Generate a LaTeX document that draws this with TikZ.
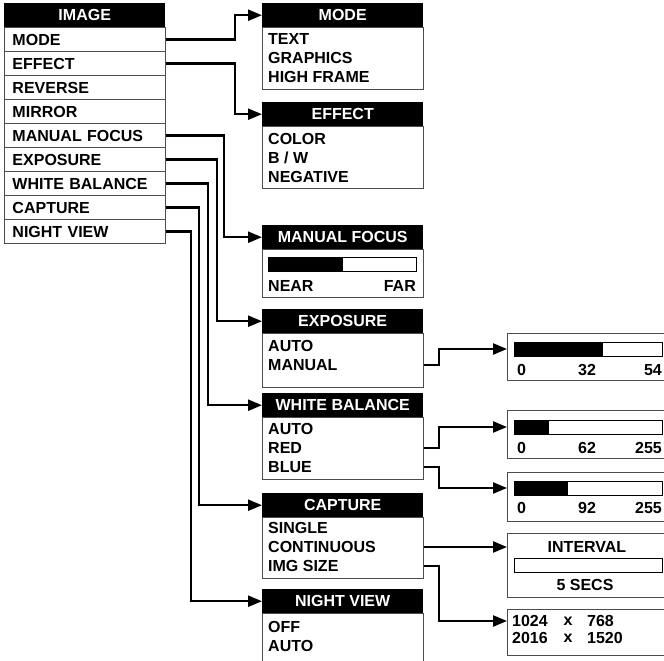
\documentclass[tikz,border=0pt]{standalone}
\usepackage{fontspec}
\setmainfont{Liberation Sans}
\usetikzlibrary{arrows.meta}
\newcommand\lab{\fontsize{16}{19}\selectfont\bfseries}
\begin{document}
\begin{tikzpicture}[x=1pt,y=-1pt,
 box/.style={draw=black!70, line width=1pt},
 menurow/.style={box, anchor=north west, minimum height=24pt, text width=145pt, inner xsep=8pt, inner ysep=0pt, align=left, font=\lab},
 hdr/.style={fill=black, text=white, anchor=north west, minimum height=24pt, minimum width=161pt, inner sep=0pt, font=\lab},
 body/.style={box, anchor=north west, minimum width=161pt, inner sep=0pt},
 rbox/.style={box, anchor=north west, minimum width=160pt, inner sep=0pt},
 item/.style={anchor=west, inner sep=0pt, font=\lab},
 conn/.style={line width=2.3pt, -{Triangle[length=14pt,width=11pt]}},
 bar/.style={draw=black, line width=0.8pt, anchor=west, minimum width=148pt, minimum height=14pt, inner sep=0pt},
 barfill/.style={fill=black, anchor=west, minimum height=14pt, inner sep=0pt},
]
\useasboundingbox (0,0) rectangle (664,661);

% main menu
\node[hdr] (img) at (4,3) {IMAGE};
\node[menurow] (m1) at (4,27) {MODE};
\node[menurow] (m2) at (4,51) {EFFECT};
\node[menurow] (m3) at (4,75) {REVERSE};
\node[menurow] (m4) at (4,99) {MIRROR};
\node[menurow] (m5) at (4,123) {MANUAL FOCUS};
\node[menurow] (m6) at (4,147) {EXPOSURE};
\node[menurow] (m7) at (4,171) {WHITE BALANCE};
\node[menurow] (m8) at (4,195) {CAPTURE};
\node[menurow] (m9) at (4,219) {NIGHT VIEW};

% MODE
\node[hdr] (modeh) at (262,3) {MODE};
\node[body, minimum height=62pt] (modeb) at (262,27) {};
\node[item] (mo1) at (268,39) {TEXT};
\node[item] (mo2) at (268,58) {GRAPHICS};
\node[item] (mo3) at (268,77) {HIGH FRAME};

% EFFECT
\node[hdr] (effh) at (262,102) {EFFECT};
\node[body, minimum height=62pt] (effb) at (262,126) {};
\node[item] (ef1) at (268,139) {COLOR};
\node[item] (ef2) at (268,158) {B / W};
\node[item] (ef3) at (268,177) {NEGATIVE};

% MANUAL FOCUS
\node[hdr] (mfh) at (262,225) {MANUAL FOCUS};
\node[body, minimum height=48pt] (mfb) at (262,249) {};
\node[bar] (mfbar) at (268,264.5) {};
\node[barfill, minimum width=75pt] (mffill) at (mfbar.west) {};
\node[item] (mfnear) at (268,286) {NEAR};
\node[item, anchor=east] (mffar) at (416,286) {FAR};

% EXPOSURE
\node[hdr] (exph) at (262,309) {EXPOSURE};
\node[body, minimum height=54pt] (expb) at (262,333) {};
\node[item] (ex1) at (268,346) {AUTO};
\node[item] (ex2) at (268,365) {MANUAL};

% WHITE BALANCE
\node[hdr] (wbh) at (262,393) {WHITE BALANCE};
\node[body, minimum height=62pt] (wbb) at (262,417) {};
\node[item] (wb1) at (268,429) {AUTO};
\node[item] (wb2) at (268,448) {RED};
\node[item] (wb3) at (268,467) {BLUE};

% CAPTURE
\node[hdr] (caph) at (262,493) {CAPTURE};
\node[body, minimum height=61pt] (capb) at (262,517) {};
\node[item] (ca1) at (268,528) {SINGLE};
\node[item] (ca2) at (268,547) {CONTINUOUS};
\node[item] (ca3) at (268,566) {IMG SIZE};

% NIGHT VIEW
\node[hdr] (nvh) at (262,589) {NIGHT VIEW};
\node[body, minimum height=60pt] (nvb) at (262,613) {};
\node[item] (nv1) at (268,627) {OFF};
\node[item] (nv2) at (268,646) {AUTO};

% right: exposure bar
\node[rbox, minimum height=47pt] (ebox) at (507,333) {};
\node[bar] (ebar) at (514,349) {};
\node[barfill, minimum width=89pt] (efill) at (ebar.west) {};
\node[item] (el0) at (517,370) {0};
\node[item, anchor=center] (el1) at (587,370) {32};
\node[item, anchor=east] (el2) at (662,370) {54};

% right: red bar
\node[rbox, minimum height=48pt] (rbox) at (507,410) {};
\node[bar] (rbar) at (514,427) {};
\node[barfill, minimum width=35pt] (rfill) at (rbar.west) {};
\node[item] (rl0) at (517,448) {0};
\node[item, anchor=center] (rl1) at (587,448) {62};
\node[item, anchor=east] (rl2) at (662,448) {255};

% right: blue bar
\node[rbox, minimum height=49pt] (bbox) at (507,472) {};
\node[bar] (bbar) at (514,488) {};
\node[barfill, minimum width=54pt] (bfill) at (bbar.west) {};
\node[item] (bl0) at (517,508) {0};
\node[item, anchor=center] (bl1) at (587,508) {92};
\node[item, anchor=east] (bl2) at (662,508) {255};

% right: interval
\node[rbox, minimum height=64pt] (ibox) at (507,533) {};
\node[item, anchor=center] (itit) at (587,547) {INTERVAL};
\node[bar] (ibar) at (514,565.5) {};
\node[item, anchor=center] (ival) at (585,585) {5 SECS};

% right: image size
\node[rbox, minimum height=46pt] (sbox) at (507,609) {};
\node[item] (s1a) at (512,621) {1024};
\node[item, anchor=center] (s1b) at (568,621) {x};
\node[item] (s1c) at (587,621) {768};
\node[item] (s2a) at (512,638) {2016};
\node[item, anchor=center] (s2b) at (568,638) {x};
\node[item] (s2c) at (587,638) {1520};

% connectors from main menu
\draw[conn] (m1.east) -| ([xshift=-27pt]modeh.west) -- (modeh.west);
\draw[conn] (m2.east) -| ([xshift=-27pt]effh.west) -- (effh.west);
\draw[conn] (m5.east) -| ([xshift=-38pt]mfh.west) -- (mfh.west);
\draw[conn] (m6.east) -| ([xshift=-45pt]exph.west) -- (exph.west);
\draw[conn] (m7.east) -| ([xshift=-54pt]wbh.west) -- (wbh.west);
\draw[conn] (m8.east) -| ([xshift=-63pt]caph.west) -- (caph.west);
\draw[conn] (m9.east) -| ([xshift=-71pt]nvh.west) -- (nvh.west);

% connectors to right boxes
\draw[conn] (expb.east |- ex2) -- ++(15,0) |- (ebox.west |- ebar);
\draw[conn] (wbb.east |- wb2) -- ++(15,0) |- (rbox.west |- rbar);
\draw[conn] (wbb.east |- wb3) -- ++(15,0) |- (bbox.west |- bbar);
\draw[conn] (capb.east |- ca2) -- (ibox.west |- ca2);
\draw[conn] (capb.east |- ca3) -- ++(15,0) |- (sbox.west |- s1a);
\end{tikzpicture}
\end{document}
